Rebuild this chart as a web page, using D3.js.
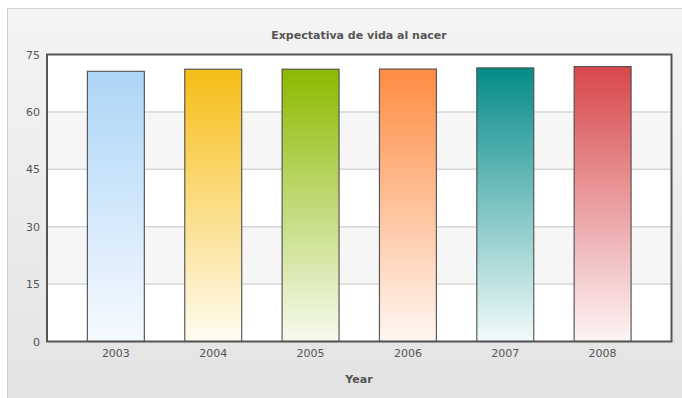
<!DOCTYPE html>
<html>
<head>
<meta charset="utf-8">
<script src="https://cdn.jsdelivr.net/npm/d3@7"></script>
<style>
  html, body { margin: 0; padding: 0; background: #fff; }
  svg { display: block; }
</style>
</head>
<body>
<svg id="chart" width="682" height="398"></svg>
<script>
// Life expectancy at birth, by year
const years = ["2003", "2004", "2005", "2006", "2007", "2008"];
const values = [70.6, 71.15, 71.15, 71.2, 71.5, 71.85];
const topColors = ["#acd5f6", "#f6bd16", "#8bba00", "#ff8c42", "#058b88", "#d7474b"];
const bottomColors = ["#f6faff", "#fffcf1", "#f7faef", "#fff7f2", "#f2fbfb", "#fdf5f5"];
const yTicks = [0, 15, 30, 45, 60, 75];

const title = "Expectativa de vida al nacer";
const xTitle = "Year";

const W = 682, H = 398;
const plot = { left: 47, right: 671.5, top: 54.5, bottom: 341.5 };
const font = "'DejaVu Sans', Verdana, sans-serif";

const svg = d3.select("#chart");
const defs = svg.append("defs");

// panel background
const bg = defs.append("linearGradient").attr("id", "bg")
  .attr("x1", 0).attr("y1", 0).attr("x2", 0).attr("y2", 1);
bg.append("stop").attr("offset", "0%").attr("stop-color", "#f4f4f4");
bg.append("stop").attr("offset", "100%").attr("stop-color", "#e3e3e3");

svg.append("rect")
  .attr("x", 7.5).attr("y", 8.5)
  .attr("width", W).attr("height", H)
  .attr("fill", "url(#bg)")
  .attr("stroke", "#cfcfcf").attr("stroke-width", 1);

const x = d3.scaleBand()
  .domain(years)
  .range([plot.left, plot.right])
  .paddingInner(0.415)
  .paddingOuter(0.415);

const y = d3.scaleLinear()
  .domain([0, 75])
  .range([plot.bottom, plot.top]);

// alternating horizontal bands
const bands = svg.append("g");
for (let i = 0; i < yTicks.length - 1; i++) {
  bands.append("rect")
    .attr("x", plot.left).attr("width", plot.right - plot.left)
    .attr("y", y(yTicks[i + 1])).attr("height", y(yTicks[i]) - y(yTicks[i + 1]))
    .attr("fill", i % 2 === 1 ? "#f6f6f6" : "#ffffff");
}

// gridlines
svg.append("g")
  .selectAll("line")
  .data(yTicks.slice(1, -1))
  .join("line")
  .attr("x1", plot.left).attr("x2", plot.right)
  .attr("y1", d => y(d)).attr("y2", d => y(d))
  .attr("stroke", "#d6d6d6").attr("stroke-width", 1.5);

// bar gradients
years.forEach((yr, i) => {
  const g = defs.append("linearGradient").attr("id", "bar" + i)
    .attr("x1", 0).attr("y1", 0).attr("x2", 0).attr("y2", 1);
  g.append("stop").attr("offset", "0%").attr("stop-color", topColors[i]);
  g.append("stop").attr("offset", "100%").attr("stop-color", bottomColors[i]);
});

svg.append("g")
  .selectAll("rect")
  .data(years)
  .join("rect")
  .attr("x", d => x(d))
  .attr("width", x.bandwidth())
  .attr("y", (d, i) => y(values[i]))
  .attr("height", (d, i) => y(0) - y(values[i]))
  .attr("fill", (d, i) => `url(#bar${i})`)
  .attr("stroke", "#4a4a4a")
  .attr("stroke-opacity", 0.9)
  .attr("stroke-width", 1.2);

// plot frame
svg.append("rect")
  .attr("x", plot.left).attr("y", plot.top)
  .attr("width", plot.right - plot.left)
  .attr("height", plot.bottom - plot.top)
  .attr("fill", "none")
  .attr("stroke", "#555").attr("stroke-width", 2);

// y axis labels
const yAxis = d3.axisLeft(y).tickValues(yTicks).tickSize(0).tickPadding(6);
const ya = svg.append("g").attr("transform", `translate(${plot.left - 1},0)`).call(yAxis);
ya.select(".domain").remove();
ya.selectAll("text")
  .attr("font-family", font).attr("font-size", 11).attr("fill", "#555");

// x axis labels
const xAxis = d3.axisBottom(x).tickSize(0).tickPadding(8);
const xa = svg.append("g").attr("transform", `translate(0,${plot.bottom})`).call(xAxis);
xa.select(".domain").remove();
xa.selectAll("text")
  .attr("font-family", font).attr("font-size", 11).attr("fill", "#555");

// titles
svg.append("text")
  .attr("x", 359).attr("y", 39)
  .attr("text-anchor", "middle")
  .attr("font-family", font).attr("font-size", 11).attr("font-weight", "bold")
  .attr("fill", "#555")
  .text(title);

svg.append("text")
  .attr("x", 359).attr("y", 383)
  .attr("text-anchor", "middle")
  .attr("font-family", font).attr("font-size", 11).attr("font-weight", "bold")
  .attr("fill", "#555")
  .text(xTitle);
</script>
</body>
</html>
